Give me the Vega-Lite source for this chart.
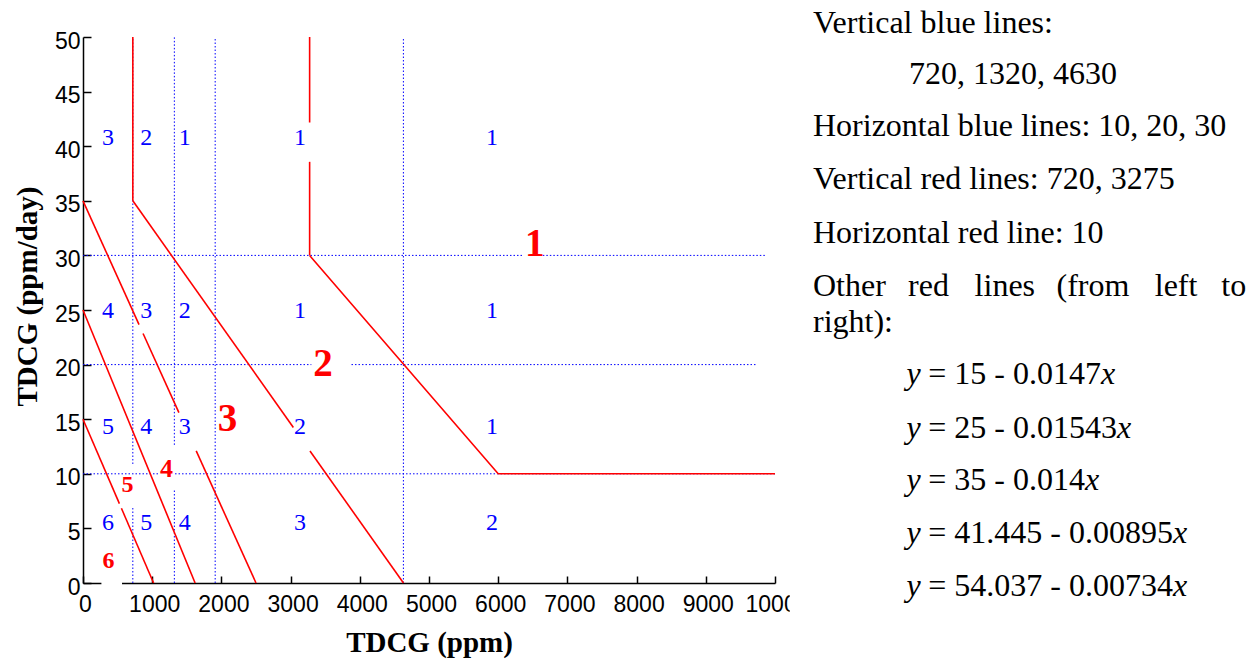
{
  "$schema": "https://vega.github.io/schema/vega-lite/v6.json",
  "background": "white",
  "padding": {"left": 13, "top": 6, "right": 5, "bottom": 5},
  "spacing": 38,
  "bounds": "flush",
  "config": {
    "view": {"stroke": null},
    "axis": {
      "grid": false,
      "domainColor": "black",
      "domainWidth": 1.5,
      "tickColor": "black",
      "tickWidth": 1.5,
      "labelFont": "Liberation Sans",
      "labelFontSize": 23,
      "labelColor": "black",
      "labelFlush": false,
      "labelOverlap": false,
      "titleFont": "Liberation Serif",
      "titleFontWeight": "bold",
      "titleFontSize": 29,
      "titleColor": "black"
    }
  },
  "datasets": {
    "blue": [
      {"seg": "v720a", "x": 720, "y": 0}, {"seg": "v720a", "x": 720, "y": 6.87},
      {"seg": "v720b", "x": 720, "y": 10.9}, {"seg": "v720b", "x": 720, "y": 50},
      {"seg": "v1320a", "x": 1320, "y": 0}, {"seg": "v1320a", "x": 1320, "y": 8.6},
      {"seg": "v1320b", "x": 1320, "y": 12.65}, {"seg": "v1320b", "x": 1320, "y": 50},
      {"seg": "v1910", "x": 1910, "y": 0}, {"seg": "v1910", "x": 1910, "y": 50},
      {"seg": "v4630", "x": 4630, "y": 0}, {"seg": "v4630", "x": 4630, "y": 50},
      {"seg": "h10a", "x": 0, "y": 10}, {"seg": "h10a", "x": 1110, "y": 10},
      {"seg": "h10b", "x": 1330, "y": 10}, {"seg": "h10b", "x": 10000, "y": 10},
      {"seg": "h20a", "x": 0, "y": 20}, {"seg": "h20a", "x": 3300, "y": 20},
      {"seg": "h20b", "x": 3880, "y": 20}, {"seg": "h20b", "x": 9735, "y": 20},
      {"seg": "h30a", "x": 0, "y": 30}, {"seg": "h30a", "x": 6355, "y": 30},
      {"seg": "h30b", "x": 6645, "y": 30}, {"seg": "h30b", "x": 9870, "y": 30}
    ],
    "red": [
      {"seg": "r1a", "x": 0, "y": 15}, {"seg": "r1a", "x": 526, "y": 7.27},
      {"seg": "r1b", "x": 555, "y": 6.84}, {"seg": "r1b", "x": 1020, "y": 0},
      {"seg": "r2", "x": 0, "y": 25}, {"seg": "r2", "x": 1620, "y": 0},
      {"seg": "r3a", "x": 0, "y": 35}, {"seg": "r3a", "x": 810, "y": 23.66},
      {"seg": "r3b", "x": 868, "y": 22.85}, {"seg": "r3b", "x": 1386, "y": 15.6},
      {"seg": "r3c", "x": 1636, "y": 12.1}, {"seg": "r3c", "x": 2500, "y": 0},
      {"seg": "r4a", "x": 720, "y": 35}, {"seg": "r4a", "x": 3040, "y": 14.24},
      {"seg": "r4b", "x": 3280, "y": 12.09}, {"seg": "r4b", "x": 4631, "y": 0},
      {"seg": "r5", "x": 3275, "y": 30}, {"seg": "r5", "x": 6000, "y": 10}, {"seg": "r5", "x": 10000, "y": 10},
      {"seg": "rv1", "x": 720, "y": 35}, {"seg": "rv1", "x": 720, "y": 50},
      {"seg": "rv2a", "x": 3275, "y": 30}, {"seg": "rv2a", "x": 3275, "y": 38.57},
      {"seg": "rv2b", "x": 3275, "y": 42.17}, {"seg": "rv2b", "x": 3275, "y": 50}
    ],
    "masks": [
      {"x": 266, "x2": 564, "y": -0.2, "y2": 0.2},
      {"x": 10212, "x2": 10700, "y": -0.6, "y2": -3.8}
    ],
    "zones": [
      {"x": 360, "y": 40.77, "label": "3"}, {"x": 915, "y": 40.77, "label": "2"}, {"x": 1470, "y": 40.77, "label": "1"}, {"x": 3135, "y": 40.77, "label": "1"}, {"x": 5910, "y": 40.77, "label": "1"},
      {"x": 360, "y": 24.9, "label": "4"}, {"x": 915, "y": 24.9, "label": "3"}, {"x": 1470, "y": 24.9, "label": "2"}, {"x": 3135, "y": 24.9, "label": "1"}, {"x": 5910, "y": 24.9, "label": "1"},
      {"x": 360, "y": 14.3, "label": "5"}, {"x": 915, "y": 14.3, "label": "4"}, {"x": 1470, "y": 14.3, "label": "3"}, {"x": 3135, "y": 14.3, "label": "2"}, {"x": 5910, "y": 14.3, "label": "1"},
      {"x": 360, "y": 5.53, "label": "6"}, {"x": 915, "y": 5.53, "label": "5"}, {"x": 1470, "y": 5.53, "label": "4"}, {"x": 3135, "y": 5.53, "label": "3"}, {"x": 5910, "y": 5.53, "label": "2"}
    ],
    "regions": [
      {"x": 6527, "y": 31.0, "zone": 1},
      {"x": 3468, "y": 20.1, "zone": 2},
      {"x": 2087, "y": 15.06, "zone": 3},
      {"x": 1205, "y": 10.45, "zone": 4},
      {"x": 642, "y": 8.95, "zone": 5},
      {"x": 368, "y": 2.0, "zone": 6}
    ],
    "notes": [
      {"line": 0, "col": 0, "text": "Vertical blue lines:"},
      {"line": 0.98, "col": 3.0, "text": "720, 1320, 4630"},
      {"line": 1.96, "col": 0, "text": "Horizontal blue lines: 10, 20, 30"},
      {"line": 2.97, "col": 0, "text": "Vertical red lines: 720, 3275"},
      {"line": 3.985, "col": 0, "text": "Horizontal red line: 10"},
      {"line": 5.0, "col": 0, "text": "Other"},
      {"line": 5.0, "col": 2.97, "text": "red"},
      {"line": 5.0, "col": 5.05, "text": "lines"},
      {"line": 5.0, "col": 7.61, "text": "(from"},
      {"line": 5.0, "col": 10.68, "text": "left"},
      {"line": 5.0, "col": 12.76, "text": "to"},
      {"line": 5.68, "col": 0, "text": "right):"},
      {"line": 6.67, "col": 3.6, "text": "= 15 - 0.0147"},
      {"line": 7.68, "col": 3.6, "text": "= 25 - 0.01543"},
      {"line": 8.68, "col": 3.6, "text": "= 35 - 0.014"},
      {"line": 9.68, "col": 3.6, "text": "= 41.445 - 0.00895"},
      {"line": 10.69, "col": 3.6, "text": "= 54.037 - 0.00734"}
    ],
    "italics": [
      {"line": 6.67, "col": 2.92, "text": "y"}, {"line": 6.67, "col": 9.0, "text": "x"},
      {"line": 7.68, "col": 2.92, "text": "y"}, {"line": 7.68, "col": 9.5, "text": "x"},
      {"line": 8.68, "col": 2.92, "text": "y"}, {"line": 8.68, "col": 8.5, "text": "x"},
      {"line": 9.68, "col": 2.92, "text": "y"}, {"line": 9.68, "col": 11.25, "text": "x"},
      {"line": 10.69, "col": 2.92, "text": "y"}, {"line": 10.69, "col": 11.25, "text": "x"}
    ]
  },
  "hconcat": [
    {
      "width": 692,
      "height": 546,
      "encoding": {
        "x": {
          "field": "x", "type": "quantitative",
          "scale": {"domain": [0, 10000], "nice": false, "zero": false},
          "axis": {
            "values": [0, 1000, 2000, 3000, 4000, 5000, 6000, 7000, 8000, 9000, 10000],
            "format": "d",
            "tickSize": -7,
            "labelPadding": 17,
            "labelOffset": 2,
            "labelFlush": false,
            "labelOverlap": false,
            "title": "TDCG (ppm)",
            "titleBaseline": "alphabetic",
            "titleY": 68
          }
        },
        "y": {
          "field": "y", "type": "quantitative",
          "scale": {"domain": [0, 50], "nice": false, "zero": false},
          "axis": {
            "values": [0, 5, 10, 15, 20, 25, 30, 35, 40, 45, 50],
            "format": "d",
            "tickSize": -8,
            "labelPadding": 11,
            "labelOffset": 4,
            "labelFlush": false,
            "labelOverlap": false,
            "title": "TDCG (ppm/day)",
            "titleBaseline": "alphabetic",
            "titleAngle": 270,
            "titleX": -47,
            "titleY": 259
          }
        }
      },
      "layer": [
        {
          "data": {"name": "blue"},
          "mark": {"type": "line", "color": "#0000ff", "strokeWidth": 1, "strokeDash": [1.5, 2]},
          "encoding": {"detail": {"field": "seg"}}
        },
        {
          "data": {"name": "red"},
          "mark": {"type": "line", "color": "#ff0000", "strokeWidth": 1.6},
          "encoding": {"detail": {"field": "seg"}}
        },
        {
          "data": {"name": "masks"},
          "mark": {"type": "rect", "color": "white"},
          "encoding": {
            "x2": {"field": "x2"},
            "y2": {"field": "y2"}
          }
        },
        {
          "data": {"name": "zones"},
          "mark": {"type": "text", "font": "Liberation Serif", "fontSize": 24, "color": "#0000ff", "align": "center", "baseline": "middle"},
          "encoding": {"text": {"field": "label"}}
        },
        {
          "data": {"name": "regions"},
          "transform": [{"filter": "datum.zone <= 3"}],
          "mark": {"type": "text", "font": "Liberation Serif", "fontWeight": "bold", "fontSize": 39, "color": "#ff0000", "align": "center", "baseline": "middle"},
          "encoding": {"text": {"field": "zone"}}
        },
        {
          "data": {"name": "regions"},
          "transform": [{"filter": "datum.zone == 4"}],
          "mark": {"type": "text", "font": "Liberation Serif", "fontWeight": "bold", "fontSize": 26, "color": "#ff0000", "align": "center", "baseline": "middle"},
          "encoding": {"text": {"field": "zone"}}
        },
        {
          "data": {"name": "regions"},
          "transform": [{"filter": "datum.zone >= 5"}],
          "mark": {"type": "text", "font": "Liberation Serif", "fontWeight": "bold", "fontSize": 24, "color": "#ff0000", "align": "center", "baseline": "middle"},
          "encoding": {"text": {"field": "zone"}}
        }
      ]
    },
    {
      "width": 440,
      "height": 546,
      "encoding": {
        "x": {"field": "col", "type": "quantitative", "scale": {"domain": [0, 13.75], "nice": false, "zero": false}, "axis": null},
        "y": {"field": "line", "type": "quantitative", "scale": {"domain": [0.08, 10.44], "nice": false, "zero": false, "reverse": true}, "axis": null},
        "text": {"field": "text"}
      },
      "layer": [
        {
          "data": {"name": "notes"},
          "mark": {"type": "text", "font": "Liberation Serif", "fontSize": 32, "color": "black", "align": "left", "baseline": "alphabetic"}
        },
        {
          "data": {"name": "italics"},
          "mark": {"type": "text", "font": "Liberation Serif", "fontStyle": "italic", "fontSize": 32, "color": "black", "align": "left", "baseline": "alphabetic"}
        }
      ]
    }
  ]
}
